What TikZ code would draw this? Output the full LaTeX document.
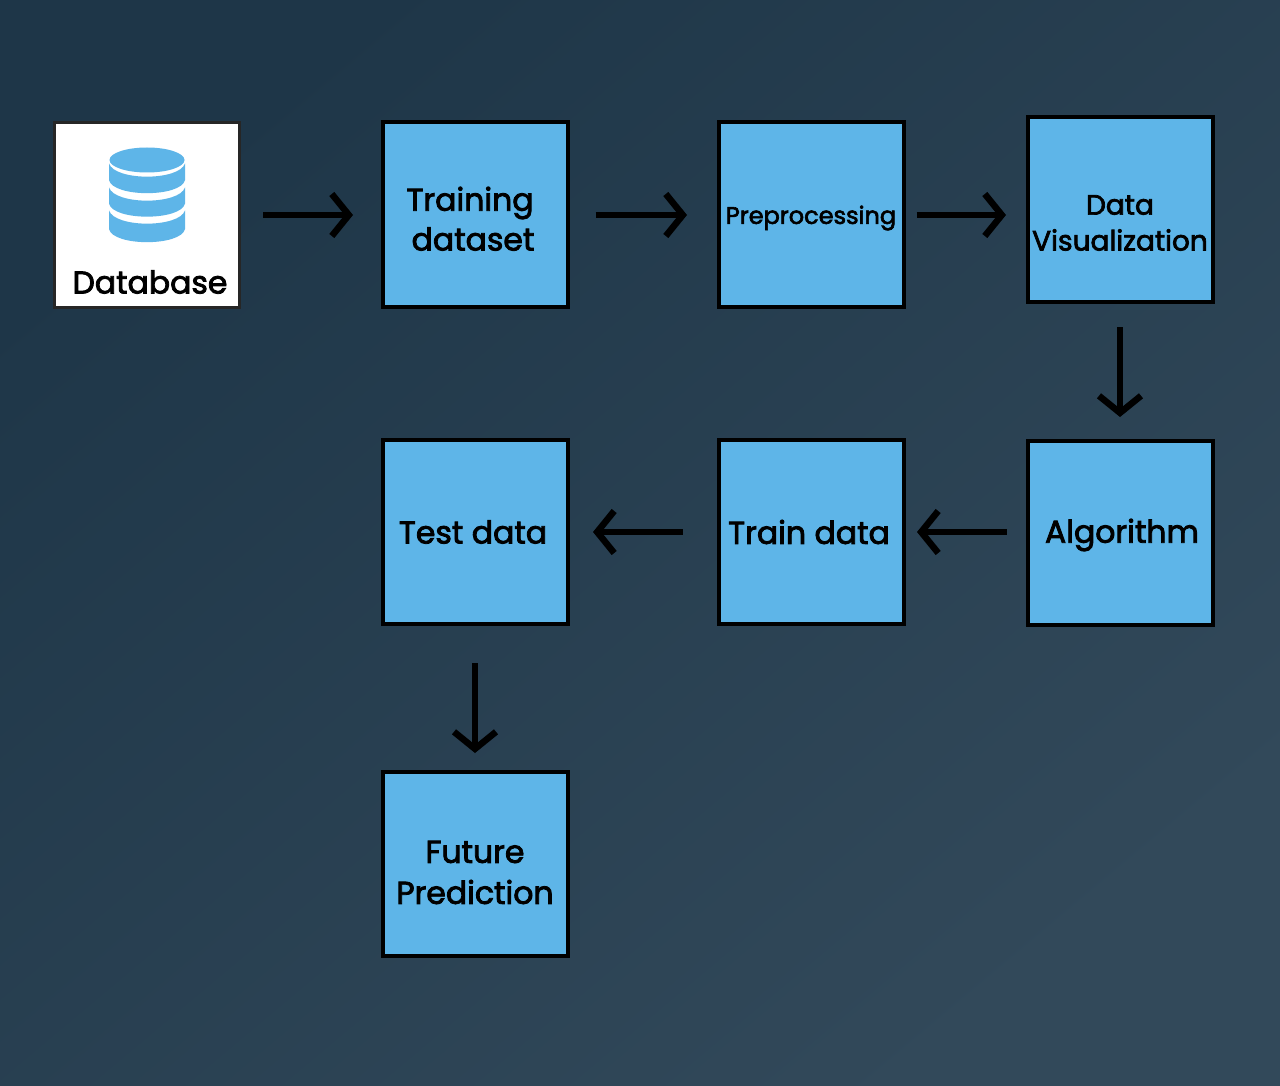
\documentclass[tikz,border=0pt]{standalone}
\usepackage{fontspec}
\setmainfont{Poppins}[FakeBold=2.6]
\usetikzlibrary{arrows.meta}
\definecolor{boxblue}{HTML}{5EB5E8}
\definecolor{bgA}{HTML}{1E3648}
\definecolor{bgB}{HTML}{32495A}
\tikzset{
  x=1pt,y=-1pt,
  stepbox/.style={draw=black,line width=4pt,fill=boxblue,minimum width=185pt,minimum height=184pt,inner sep=0pt,outer sep=2pt},
  whitebox/.style={stepbox,fill=white,draw=black!85!white,line width=3pt,minimum width=185pt,minimum height=185pt},
  lbl/.style={inner sep=0pt,align=center,text=black,font=\fontsize{#1}{#1}\selectfont},
  conn/.style={draw=black,line width=6pt,-{Straight Barb[length=17pt,width=42pt,line width=6.5pt]}}
}
\newcommand{\dbband}[3]{% top edge y, bottom edge y at sides, sag
  \fill[boxblue] (109,#1) .. controls (115,{#1+#3*1.3}) and (179,{#1+#3*1.3}) .. (185,#1)
    -- (185,#2) .. controls (181,{#2+#3*1.3}) and (113,{#2+#3*1.3}) .. (109,#2) -- cycle;}
\begin{document}
\begin{tikzpicture}
\useasboundingbox (0,0) rectangle (1280,1086);
\shade[shading=axis,left color=bgA,right color=bgB,shading angle=40] (0,0) rectangle (1280,1086);
% boxes
\node[whitebox] (db) at (146.5,215) {};
\node[stepbox] (training) at (475,214.5) {};
\node[stepbox] (prep) at (811,214.5) {};
\node[stepbox] (viz) at (1120,209.5) {};
\node[stepbox] (algo) at (1120,532.5) {};
\node[stepbox] (train) at (811,531.5) {};
\node[stepbox] (test) at (475,531.5) {};
\node[stepbox] (future) at (475,864) {};
% icon
\fill[boxblue] (147,160) ellipse [x radius=37.5,y radius=12.5];
\dbband{163.5}{180}{13.5}
\dbband{187.5}{203.5}{13.5}
\dbband{210.5}{229}{13.5}
% labels
\node[lbl=31.5] (tdb) at (150,282) {Database};
\node[lbl=31.5] (t1) at (470,203) {Training};
\node[lbl=31.5] (t1b) at (473,239) {dataset};
\node[lbl=24] (t2) at (811,218) {Preprocessing};
\node[lbl=28] (t3) at (1120,205) {Data};
\node[lbl=28] (t3b) at (1120,240) {Visualization};
\node[lbl=31.5] (t4) at (1122,535) {Algorithm};
\node[lbl=31.5] (t5) at (809,532) {Train data};
\node[lbl=31.5] (t6) at (473,532) {Test data};
\node[lbl=31.5] (t7) at (475,852) {Future};
\node[lbl=31.5] (t7b) at (475,892) {Prediction};
% connectors
\draw[conn,shorten <=22pt,shorten >=27.5pt] (db.east |- 0,215) -- (training.west |- 0,215);
\draw[conn,shorten <=26pt,shorten >=29.5pt] (training.east |- 0,215) -- (prep.west |- 0,215);
\draw[conn,shorten <=11pt,shorten >=19.5pt] (prep.east |- 0,215) -- (viz.west |- 0,215);
\draw[conn,shorten <=23.5pt,shorten >=21.5pt] (viz) -- (algo);
\draw[conn,shorten <=19pt,shorten >=11.5pt] (algo.west |- 0,532) -- (train.east |- 0,532);
\draw[conn,shorten <=34pt,shorten >=23.5pt] (train.west |- 0,532) -- (test.east |- 0,532);
\draw[conn,shorten <=37.5pt,shorten >=17pt] (test) -- (future);
\end{tikzpicture}
\end{document}
